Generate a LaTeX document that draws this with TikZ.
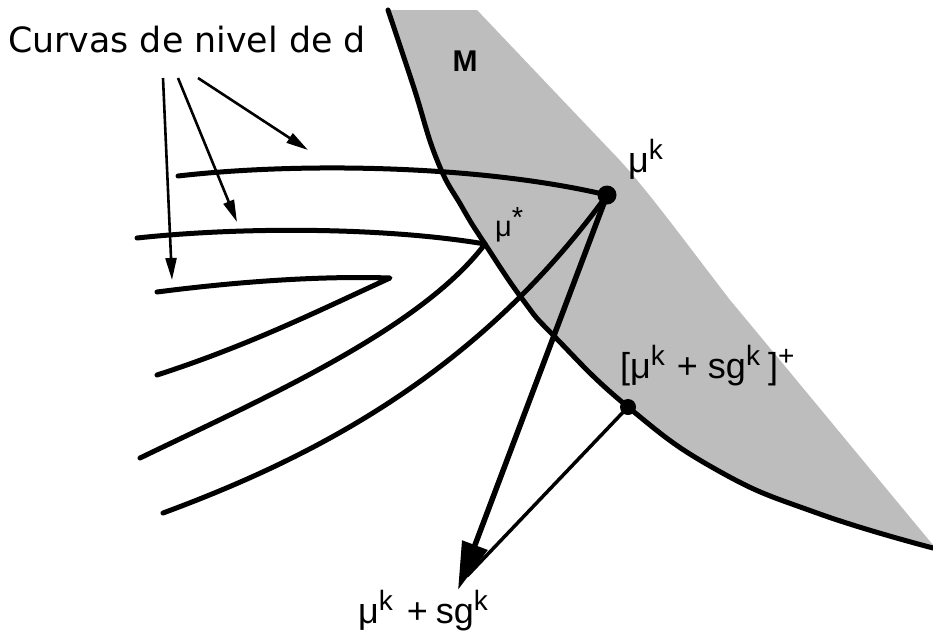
\documentclass[tikz,border=0pt]{standalone}
\usepackage{fontspec}
\setmainfont{Liberation Sans}
\newfontfamily\djv{DejaVu Sans}
\usetikzlibrary{arrows.meta}
\definecolor{shadeM}{gray}{0.74}
\newcommand\myup[1]{\raisebox{0.36em}{\fontsize{28}{28}\selectfont #1}}
\begin{document}
\begin{tikzpicture}[x=1pt,y=-1pt,
  level/.style={line width=5pt,line cap=round,line join=round},
  bound/.style={line width=5pt,line cap=round},
  pointer/.style={line width=2.6pt,-{Triangle[length=22pt,width=11pt]}},
  bigarrow/.style={line width=5.5pt,-{Triangle[length=48pt,width=26pt]}},
  thinline/.style={line width=3.5pt,line cap=round},
  dotnode/.style={circle,fill=black,inner sep=0pt,minimum size=#1},
  lab/.style={inner sep=0pt,font=\fontsize{36}{36}\selectfont}]
\useasboundingbox (0,0) rectangle (933,635);
% shaded region M
\fill[shadeM] plot[smooth,tension=0.8] coordinates {(388,10) (413,85) (437,160) (462,207) (485,244) (523,300) (555,337) (628,407) (717,470) (817,513) (933,548)}
  -- (933,545) .. controls (850,445) and (780,360) .. (730,300) .. controls (680,235) and (640,180) .. (610,150) -- (477,10) -- cycle;
% boundary of M
\draw[bound] plot[smooth,tension=0.8] coordinates {(388,10) (413,85) (437,160) (462,207) (485,244) (523,300) (555,337) (628,407) (717,470) (817,513) (933,548)};
% named points
\coordinate (ms) at (485,244);
\coordinate (tip) at (458,590);
\coordinate (thinend) at (467,576);
\coordinate (mkc) at (607,195);
\coordinate (projc) at (628,407);
% level curves
\draw[level] (178,176) .. controls (300,162) and (480,165) .. (mkc);
\draw[level] (163,513) .. controls (320,455) and (480,370) .. (mkc);
\draw[level] (137,238) .. controls (250,226) and (390,228) .. (ms);
\draw[level] (140,458) .. controls (260,400) and (420,330) .. (ms);
\draw[level] (157,292) .. controls (250,280) and (330,276) .. (390,278)
             .. controls (320,310) and (250,345) .. (157,375);
% arrows
\draw[thinline] (projc) -- (thinend);
\draw[bigarrow] (mkc) -- (tip);
% dots
\node[dotnode=19pt] (mk) at (mkc) {};
\node[dotnode=16pt] (proj) at (projc) {};
% title and pointers
\node[anchor=base west,inner sep=0pt,font=\djv\fontsize{34.8}{40}\selectfont] (title) at (8,52) {Curvas de nivel de d};
\coordinate (s1) at (163,78);
\coordinate (s2) at (178,78);
\coordinate (s3) at (198,78);
\coordinate (e1) at (172,280);
\coordinate (e2) at (237,222);
\coordinate (e3) at (308,150);
\draw[pointer] (s1) -- (e1);
\draw[pointer] (s2) -- (e2);
\draw[pointer] (s3) -- (e3);
% labels
\node[inner sep=0pt,font=\bfseries\fontsize{30}{30}\selectfont] (lM) at (465,61) {M};
\node[lab,anchor=base west] (lmk) at (628,172) {μ\myup{k}};
\node[lab,anchor=base west,font=\fontsize{29}{29}\selectfont] (lms) at (495,236) {μ\raisebox{0.3em}{*}};
\node[lab,anchor=base west] (lproj) at (620,378) {[μ\myup{k}\hspace{12pt}+\hspace{10pt}sg\myup{k}\hspace{8pt}]\myup{+}};
\node[lab,anchor=base west] (lsum) at (358,623) {μ\myup{k}\hspace{14pt}+\hspace{8pt}sg\myup{k}};
\end{tikzpicture}
\end{document}
